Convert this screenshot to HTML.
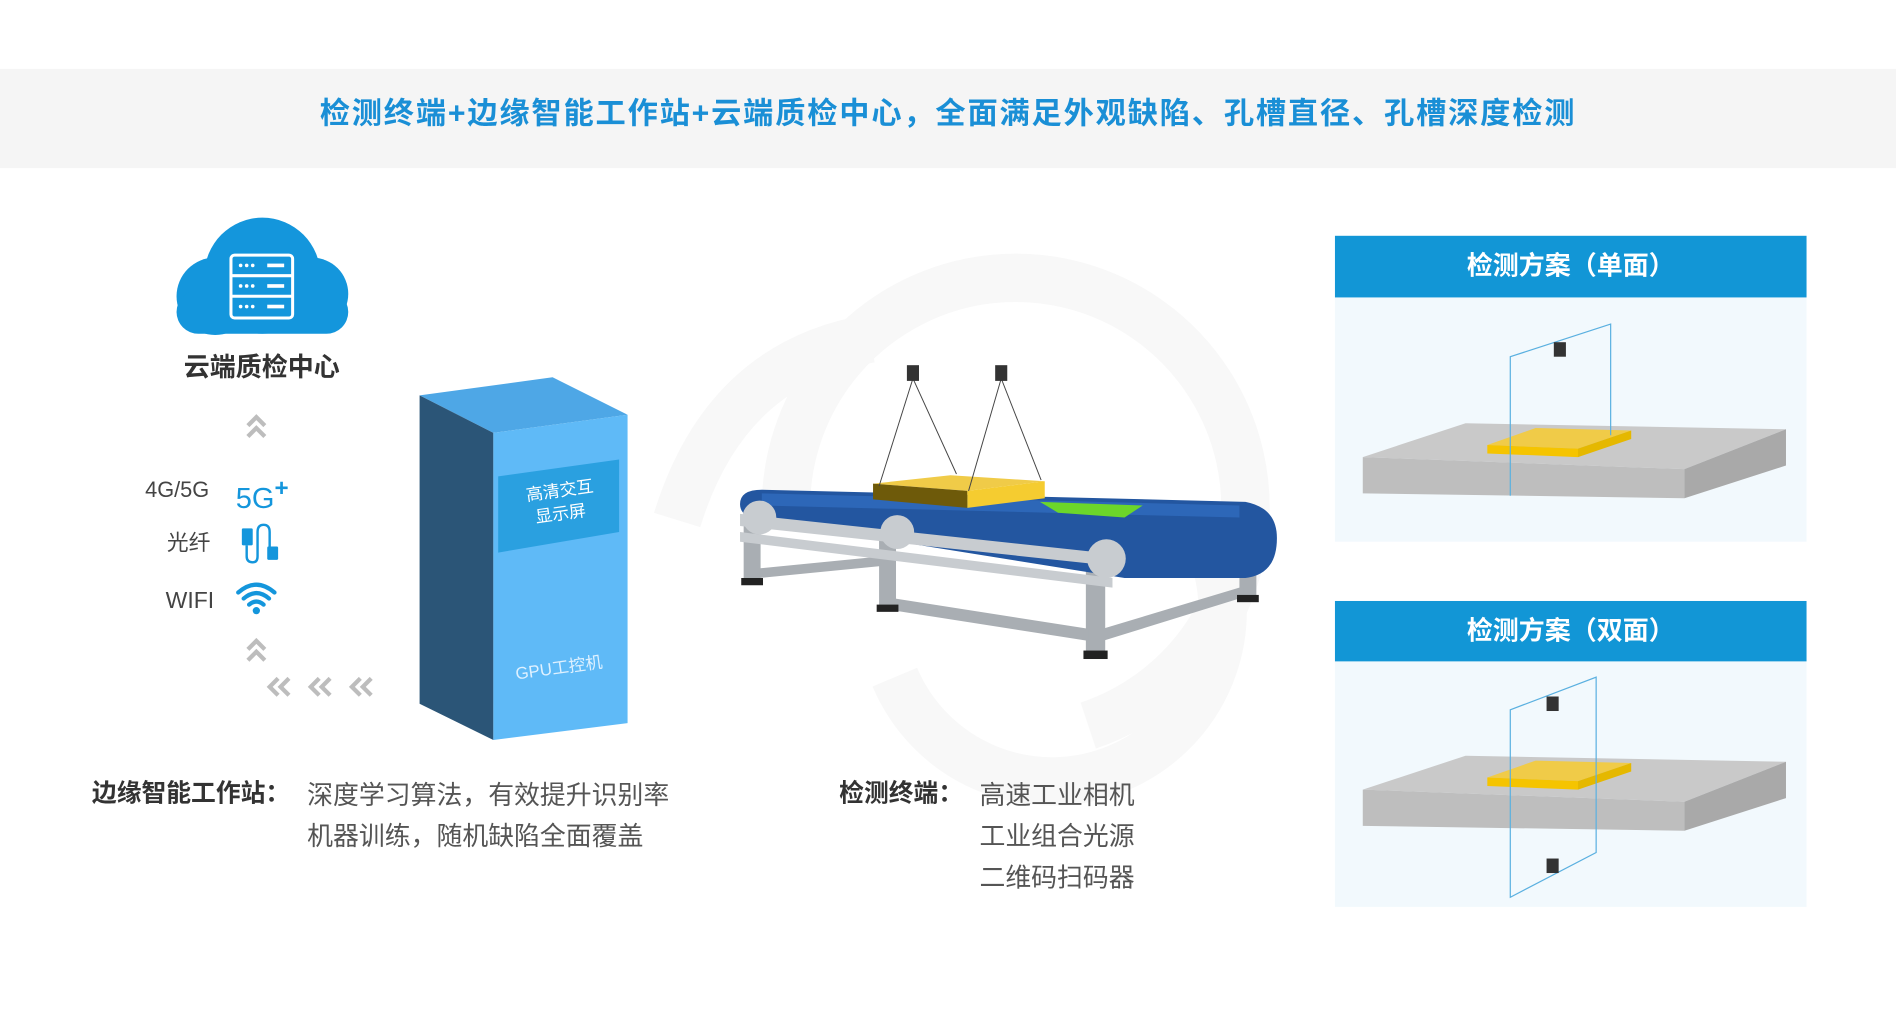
<!DOCTYPE html>
<html><head><meta charset="utf-8"><style>
html,body{margin:0;padding:0;background:#fff;}
#w{width:1568px;height:855px;position:relative;transform:scale(1.2092);transform-origin:0 0;overflow:hidden;font-family:"Liberation Sans","Noto Sans CJK SC",sans-serif;}
.t{position:absolute;white-space:nowrap;line-height:1;}
</style></head><body><div id="w">
<div style="position:absolute;left:0;top:57px;width:1568px;height:82px;background:#f5f5f5"></div>
<div class="t" style="left:0;width:1568px;text-align:center;top:82px;font-size:25px;letter-spacing:1.5px;font-weight:bold;color:#1a8fd6">检测终端+边缘智能工作站+云端质检中心，全面满足外观缺陷、孔槽直径、孔槽深度检测</div>

<svg width="1568" height="855" style="position:absolute;left:0;top:0">
<g fill="none" stroke="#f8f8f8" stroke-width="40">
<path d="M650 420 A190 190 0 1 1 900 600"/>
<path d="M560 430 Q600 300 720 280"/>
<path d="M740 560 A140 140 0 1 0 1000 450"/>
</g>
<g fill="#1496dc">
<circle cx="217" cy="228" r="48"/><circle cx="178" cy="245" r="32"/><circle cx="258" cy="243" r="30"/>
<rect x="146" y="240" width="142" height="36" rx="18"/>
</g>
<g fill="none" stroke="#fff" stroke-width="2.5">
<rect x="191" y="211" width="51" height="52" rx="3"/><line x1="191" y1="228" x2="242" y2="228"/><line x1="191" y1="245" x2="242" y2="245"/>
</g>
<g fill="#fff"><rect x="221" y="218" width="14" height="3"/><rect x="221" y="235" width="14" height="3"/><rect x="221" y="252" width="14" height="3"/>
<circle cx="199" cy="219.5" r="1.5"/><circle cx="204" cy="219.5" r="1.5"/><circle cx="209" cy="219.5" r="1.5"/>
<circle cx="199" cy="236.5" r="1.5"/><circle cx="204" cy="236.5" r="1.5"/><circle cx="209" cy="236.5" r="1.5"/>
<circle cx="199" cy="253.5" r="1.5"/><circle cx="204" cy="253.5" r="1.5"/><circle cx="209" cy="253.5" r="1.5"/></g>
<g fill="none" stroke="#bdbdbd" stroke-width="3.5">
<path d="M205 352 L212 345 L219 352 M205 361 L212 354 L219 361"/>
<path d="M205 537 L212 530 L219 537 M205 546 L212 539 L219 546"/>
<path d="M230 561 L223 568 L230 575 M239 561 L232 568 L239 575"/>
<path d="M264 561 L257 568 L264 575 M273 561 L266 568 L273 575"/>
<path d="M298 561 L291 568 L298 575 M307 561 L300 568 L307 575"/>
</g>
<g fill="#1496dc"><rect x="200" y="437" width="9" height="14" rx="1"/><rect x="221" y="452" width="9" height="11" rx="1"/></g>
<path d="M204 451 V460 Q204 465 209 465 Q213 465 213 460 V440 Q213 434 218 434 Q223 434 223 440 V452" fill="none" stroke="#1496dc" stroke-width="2"/>
<g fill="none" stroke="#1496dc" stroke-width="3.5" stroke-linecap="round">
<path d="M197 490 Q212 477 227 490"/><path d="M201.5 495 Q212 486 222.5 495"/><path d="M206 500 Q212 495 218 500"/></g>
<circle cx="212" cy="505" r="3" fill="#1496dc"/>
<polygon points="347,327 457,312 519,343 408,358" fill="#4ea7e6"/>
<polygon points="347,327 408,358 408,612 347,582" fill="#2b5577"/>
<polygon points="408,358 519,343 519,598 408,612" fill="#5fbaf7"/>
<polygon points="412,394 512,380 512,440 412,457" fill="#2aa0e0"/>
<g fill="#a9aeb3">
<rect x="615" y="425" width="14" height="55"/><rect x="727" y="440" width="14" height="62"/><rect x="898" y="460" width="16" height="80"/><rect x="1025" y="440" width="14" height="55"/>
<polygon points="740,495 900,520 900,530 740,505"/><polygon points="912,520 1028,485 1028,494 912,530"/>
<polygon points="628,470 730,460 730,468 628,478"/>
</g>
<g fill="#222"><rect x="613" y="478" width="18" height="6"/><rect x="725" y="500" width="18" height="6"/><rect x="896" y="538" width="20" height="7"/><rect x="1023" y="492" width="18" height="6"/></g>
<path d="M630 405 L1030 415 Q1056 420 1056 445 Q1056 475 1030 478 L930 478 L630 430 Q612 428 612 417 Q612 405 630 405Z" fill="#2356a0"/>
<path d="M630 408 L1025 418 L1025 428 L630 418Z" fill="#2d67b8"/>
<path d="M860 415 L945 418 L930 428 L875 424Z" fill="#6cd62a"/>
<g fill="#c8ccd0"><polygon points="612,425 920,458 920,468 612,435"/><polygon points="612,440 920,478 920,486 612,448"/>
<ellipse cx="628" cy="428" rx="14" ry="14"/><ellipse cx="742" cy="440" rx="14" ry="14"/><ellipse cx="915" cy="462" rx="16" ry="16"/></g>
<polygon points="722,400 786,393 864,398 800,406" fill="#f0cb48"/>
<polygon points="722,400 800,406 800,420 722,413" fill="#6e5a0a"/>
<polygon points="800,406 864,398 864,412 800,420" fill="#f5cc30"/>
<g stroke="#444" stroke-width="0.8"><line x1="755" y1="313" x2="727" y2="402"/><line x1="755" y1="313" x2="791" y2="392"/><line x1="828" y1="313" x2="801" y2="406"/><line x1="828" y1="313" x2="861" y2="397"/></g>
<rect x="750" y="302" width="10" height="13" fill="#333"/><rect x="823" y="302" width="10" height="13" fill="#333"/>
<rect x="1104" y="195" width="390" height="51" fill="#1296d6"/><rect x="1104" y="246" width="390" height="202" fill="#f2f9fd"/>
<rect x="1104" y="497" width="390" height="50" fill="#1296d6"/><rect x="1104" y="547" width="390" height="203" fill="#f2f9fd"/>
<g>
<polygon points="1127,378 1212,350 1477,355 1393,388" fill="#c9c9c9"/>
<polygon points="1127,378 1393,388 1393,412 1127,408" fill="#bebebe"/>
<polygon points="1393,388 1477,355 1477,385 1393,412" fill="#a9a9a9"/>
<polygon points="1230,368 1270,354 1349,356 1305,371" fill="#f0cb48"/>
<polygon points="1230,368 1305,371 1305,378 1230,375" fill="#f5c400"/>
<polygon points="1305,371 1349,356 1349,363 1305,378" fill="#e5b800"/>
</g>
<g fill="none" stroke="#5ab0e0" stroke-width="1"><path d="M1249,410 V295 L1332,268 V360"/></g>
<rect x="1285" y="283" width="10" height="12" fill="#333"/>
<g transform="translate(0,275)">
<polygon points="1127,378 1212,350 1477,355 1393,388" fill="#c9c9c9"/>
<polygon points="1127,378 1393,388 1393,412 1127,408" fill="#bebebe"/>
<polygon points="1393,388 1477,355 1477,385 1393,412" fill="#a9a9a9"/>
<polygon points="1230,368 1270,354 1349,356 1305,371" fill="#f0cb48"/>
<polygon points="1230,368 1305,371 1305,378 1230,375" fill="#f5c400"/>
<polygon points="1305,371 1349,356 1349,363 1305,378" fill="#e5b800"/>
</g>
<g fill="none" stroke="#5ab0e0" stroke-width="1"><path d="M1249,742 V587 L1320,560 V705 Z"/></g>
<rect x="1279" y="576" width="10" height="12" fill="#333"/><rect x="1279" y="710" width="10" height="12" fill="#333"/>
</svg>

<div class="t" style="left:152px;top:294px;font-size:21.5px;font-weight:bold;color:#333">云端质检中心</div>
<div class="t" style="left:120px;top:396px;font-size:18px;color:#444">4G/5G</div>
<div class="t" style="left:195px;top:394px;font-size:24px;color:#1496dc">5G<sup style="font-size:20px;font-weight:bold;vertical-align:10px">+</sup></div>
<div class="t" style="left:138px;top:440px;font-size:18px;color:#444">光纤</div>
<div class="t" style="left:137px;top:488px;font-size:19px;color:#444">WIFI</div>
<div class="t" style="left:430px;top:401px;font-size:14px;color:#fff;text-align:center;line-height:19px;transform:rotate(-8deg);transform-origin:left top">&nbsp;高清交互<br>显示屏</div>
<div class="t" style="left:426px;top:545px;font-size:14px;color:#dff1ff;transform:rotate(-8deg)">GPU工控机</div>
<div class="t" style="left:1104px;width:390px;text-align:center;top:210px;font-size:21.5px;font-weight:bold;color:#fff">检测方案（单面）</div>
<div class="t" style="left:1104px;width:390px;text-align:center;top:512px;font-size:21.5px;font-weight:bold;color:#fff">检测方案（双面）</div>
<div class="t" style="left:76px;top:647px;font-size:20.5px;font-weight:bold;color:#333">边缘智能工作站：</div>
<div class="t" style="left:254px;top:641px;font-size:21.4px;color:#555;line-height:34px">深度学习算法，有效提升识别率<br>机器训练，随机缺陷全面覆盖</div>
<div class="t" style="left:694px;top:647px;font-size:20.5px;font-weight:bold;color:#333">检测终端：</div>
<div class="t" style="left:810px;top:641px;font-size:21.4px;color:#555;line-height:34px">高速工业相机<br>工业组合光源<br>二维码扫码器</div>
</div></body></html>
